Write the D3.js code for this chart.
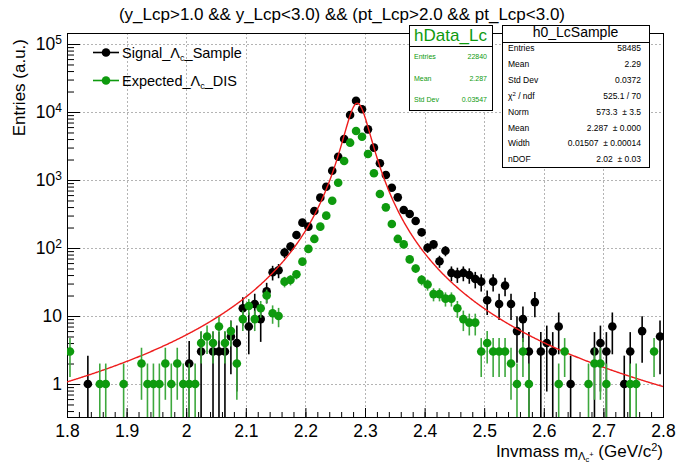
<!DOCTYPE html>
<html>
<head>
<meta charset="utf-8">
<script src="https://cdn.jsdelivr.net/npm/d3@7/dist/d3.min.js"></script>
<style>
  html, body { margin: 0; padding: 0; background: #fff; }
  text { font-family: "Liberation Sans", Arial, Helvetica, sans-serif; }
</style>
</head>
<body>
<svg id="chart" width="678" height="464"></svg>
<script>
// Histogram binning: 100 bins of 0.01 GeV/c^2 from 1.8 to 2.8
const binLow = 1.8;
const binWidth = 0.01;

// Bin contents, h0_LcSample (black)
const signalSample = [
  0, 0, 0, 1, 0, 0, 0, 0, 0, 0,
  0, 0, 0, 0, 0, 0, 0, 0, 0, 0,
  2, 0, 3, 0, 3, 3, 3, 5, 4, 13,
  7, 15, 9, 23, 44, 47, 86, 105, 155, 236,
  206, 350, 550, 797, 1370, 2200, 4010, 9040, 14660, 10960,
  5560, 2990, 1760, 1185, 771, 556, 362, 316, 250, 170,
  101, 113, 64, 91, 43, 41, 43, 40, 35, 32,
  17, 32, 15, 28, 15, 6, 9, 3, 16, 3,
  4, 3, 7, 0, 1, 0, 0, 0, 3, 4,
  3, 7, 0, 1, 3, 0, 6, 0, 0, 5
];

// Bin contents, hData_Lc (green)
const expectedDIS = [
  3, 0, 0, 0, 0, 1, 1, 0, 0, 1,
  0, 0, 2, 1, 1, 1, 2, 1, 2, 1,
  1, 1, 4, 5, 4, 7, 4, 6, 2, 9,
  14, 9, 13, 20, 11, 10, 32, 34, 41, 63,
  97, 136, 206, 299, 496, 913, 1900, 3540, 5250, 4330,
  2410, 1254, 622, 396, 225, 136, 113, 68, 50, 34,
  29, 21, 21, 18, 18, 13, 9, 8, 8, 3,
  4, 3, 3, 3, 2, 1, 3, 1, 0, 0,
  0, 0, 1, 3, 0, 0, 0, 1, 2, 2,
  1, 0, 0, 0, 1, 1, 0, 0, 3, 0
];

// Error scale of the weighted signal sample
const signalErrScale = 2.6;

// Fit result (Student-t shape) shown in the h0_LcSample box
const fitNorm = 573.3, fitNormErr = 3.5;
const fitMean = 2.287, fitMeanErr = 0.000;
const fitWidth = 0.01507, fitWidthErr = 0.00014;
const fitNdof = 2.02, fitNdofErr = 0.03;
const fitChi2 = 525.1, fitNdf = 70;

const xTicks = [1.8, 1.9, 2.0, 2.1, 2.2, 2.3, 2.4, 2.5, 2.6, 2.7, 2.8];
const xTickLabels = ["1.8", "1.9", "2", "2.1", "2.2", "2.3", "2.4", "2.5", "2.6", "2.7", "2.8"];
const yDecades = [1, 10, 100, 1000, 10000, 100000];

const statsData = { title: "hData_Lc", rows: [["Entries", "22840"], ["Mean", "2.287"], ["Std Dev", "0.03547"]] };
const statsSample = {
  title: "h0_LcSample",
  rows: [
    ["Entries", "58485"],
    ["Mean", "2.29"],
    ["Std Dev", "0.0372"],
    ["chi2", fitChi2.toFixed(1) + " / " + fitNdf],
    ["Norm", fitNorm.toFixed(1) + "  \u00b1 " + fitNormErr.toFixed(1)],
    ["Mean", fitMean.toFixed(3) + "  \u00b1 " + fitMeanErr.toFixed(3)],
    ["Width", fitWidth.toFixed(5) + "  \u00b1 " + fitWidthErr.toFixed(5)],
    ["nDOF", fitNdof.toFixed(2) + "  \u00b1 " + fitNdofErr.toFixed(2)]
  ]
};

const BLACK = "#000000";
const GREEN = "#0e9a0e";
const GREEN_BAR = "#3da83d";
const RED = "#ee1c1c";

// ---- layout of the frame
const frame = { left: 67, right: 663, top: 33, bottom: 417 };
const pxPerDecade = 68;
const yOne = 384; // pixel row of 1
const yMin = Math.pow(10, -(frame.bottom - yOne) / pxPerDecade);
const yMax = Math.pow(10, (yOne - frame.top) / pxPerDecade);

const svg = d3.select("#chart");
const x = d3.scaleLinear().domain([1.8, 2.8]).range([frame.left, frame.right]);
const y = d3.scaleLog().domain([yMin, yMax]).range([frame.bottom, frame.top]);

svg.append("defs").append("clipPath").attr("id", "plotClip")
  .append("rect").attr("x", frame.left).attr("y", frame.top)
  .attr("width", frame.right - frame.left).attr("height", frame.bottom - frame.top);

// ---- grid
const grid = svg.append("g").attr("stroke", "#b4b4b4").attr("stroke-width", 1).attr("stroke-dasharray", "2,2");
grid.selectAll("line.gx").data(xTicks.slice(1, -1)).join("line")
  .attr("x1", d => Math.round(x(d)) + 0.5).attr("x2", d => Math.round(x(d)) + 0.5)
  .attr("y1", frame.top).attr("y2", frame.bottom);
grid.selectAll("line.gy").data(yDecades).join("line")
  .attr("y1", d => Math.round(y(d)) + 0.5).attr("y2", d => Math.round(y(d)) + 0.5)
  .attr("x1", frame.left).attr("x2", frame.right);

// ---- axes
const xMinor = d3.range(0, 51).map(i => 1.8 + i * 0.02);
const xAxisMinor = d3.axisBottom(x).tickValues(xMinor).tickSizeInner(-5).tickSizeOuter(0).tickFormat("");
const xAxisMajor = d3.axisBottom(x).tickValues(xTicks).tickSizeInner(-9).tickSizeOuter(0)
  .tickPadding(8).tickFormat((d, i) => xTickLabels[i]);

const gxMinor = svg.append("g").attr("transform", `translate(0,${frame.bottom})`).call(xAxisMinor);
const gx = svg.append("g").attr("transform", `translate(0,${frame.bottom})`).call(xAxisMajor);
[gxMinor, gx].forEach(g => { g.select(".domain").remove(); g.selectAll(".tick line").attr("stroke", "#000"); });
gx.selectAll(".tick text").attr("font-size", 17.5).attr("fill", "#000")
  .style("font-family", "'Liberation Sans', Arial, sans-serif");

const yMinor = [];
for (let e = -1; e <= 5; e++) for (let m = 2; m <= 9; m++) {
  const v = m * Math.pow(10, e);
  if (v > yMin && v < yMax) yMinor.push(v);
}
const yAxisMinor = d3.axisLeft(y).tickValues(yMinor).tickSizeInner(-7).tickSizeOuter(0).tickFormat("");
const yAxisMajor = d3.axisLeft(y).tickValues(yDecades).tickSizeInner(-13).tickSizeOuter(0).tickPadding(5)
  .tickFormat(() => "");
const gyMinor = svg.append("g").attr("transform", `translate(${frame.left},0)`).call(yAxisMinor);
const gy = svg.append("g").attr("transform", `translate(${frame.left},0)`).call(yAxisMajor);
[gyMinor, gy].forEach(g => { g.select(".domain").remove(); g.selectAll(".tick line").attr("stroke", "#000"); });
gy.selectAll(".tick text").each(function (d) {
  const t = d3.select(this).attr("font-size", 17.5).attr("fill", "#000")
    .style("font-family", "'Liberation Sans', Arial, sans-serif");
  const exp = Math.round(Math.log10(d));
  if (exp <= 1) { t.text(String(d)); }
  else {
    t.text("10");
    t.append("tspan").attr("dy", "-0.5em").attr("font-size", 12).text(exp);
  }
});

// ---- frame
svg.append("rect").attr("x", frame.left + 0.5).attr("y", frame.top + 0.5)
  .attr("width", frame.right - frame.left).attr("height", frame.bottom - frame.top)
  .attr("fill", "none").attr("stroke", "#000").attr("stroke-width", 1);

// ---- data layers
const plot = svg.append("g").attr("clip-path", "url(#plotClip)");

function histPoints(values, errFn) {
  return values.map((v, i) => ({ x: binLow + binWidth * (i + 0.5), v, e: errFn(v) })).filter(d => d.v > 0);
}

function drawSeries(points, barColor, markColor, barWidth) {
  const g = plot.append("g");
  g.selectAll("line").data(points).join("line")
    .attr("x1", d => x(d.x)).attr("x2", d => x(d.x))
    .attr("y1", d => (d.v - d.e) > yMin ? y(d.v - d.e) : frame.bottom + 2)
    .attr("y2", d => y(d.v + d.e))
    .attr("stroke", barColor).attr("stroke-width", barWidth);
  g.selectAll("circle").data(points).join("circle")
    .attr("cx", d => x(d.x)).attr("cy", d => y(d.v)).attr("r", 4.3)
    .attr("fill", markColor);
}

drawSeries(histPoints(signalSample, v => Math.sqrt(signalErrScale * v)), BLACK, BLACK, 1.6);

// Student-t fit: Norm/Width * t-pdf((m - Mean)/Width; nDOF)
function gammaFn(z) {
  const p = [0.99999999999980993, 676.5203681218851, -1259.1392167224028, 771.32342877765313,
    -176.61502916214059, 12.507343278686905, -0.13857109526572012, 9.9843695780195716e-6, 1.5056327351493116e-7];
  if (z < 0.5) return Math.PI / (Math.sin(Math.PI * z) * gammaFn(1 - z));
  z -= 1;
  let a = p[0];
  for (let i = 1; i < 9; i++) a += p[i] / (z + i);
  const t = z + 7.5;
  return Math.sqrt(2 * Math.PI) * Math.pow(t, z + 0.5) * Math.exp(-t) * a;
}
const tCoef = gammaFn((fitNdof + 1) / 2) / (Math.sqrt(fitNdof * Math.PI) * gammaFn(fitNdof / 2));
function fitFn(m) {
  const t = (m - fitMean) / fitWidth;
  return fitNorm / fitWidth * tCoef * Math.pow(1 + t * t / fitNdof, -(fitNdof + 1) / 2);
}
const curve = d3.range(0, 1001).map(i => 1.8 + i * 0.001);
plot.append("path").datum(curve)
  .attr("d", d3.line().x(d => x(d)).y(d => y(fitFn(d))))
  .attr("fill", "none").attr("stroke", RED).attr("stroke-width", 1.4);

drawSeries(histPoints(expectedDIS, v => Math.sqrt(v)), GREEN_BAR, GREEN, 1.6);

// ---- title and axis titles
svg.append("text").attr("x", 342).attr("y", 20).attr("text-anchor", "middle")
  .attr("font-size", 17).text("(y_Lcp>1.0 && y_Lcp<3.0) && (pt_Lcp>2.0 && pt_Lcp<3.0)");

svg.append("text").attr("transform", `translate(25,${frame.top + 6}) rotate(-90)`)
  .attr("text-anchor", "end").attr("font-size", 17).text("Entries (a.u.)");

const xt = svg.append("text").attr("x", frame.right).attr("y", 457).attr("text-anchor", "end").attr("font-size", 17);
xt.append("tspan").text("Invmass m");
xt.append("tspan").attr("dy", 3).attr("font-size", 11).text("\u039b");
xt.append("tspan").attr("dy", 1.5).attr("font-size", 7.5).text("c");
xt.append("tspan").attr("dy", -5).attr("font-size", 7.5).text("+");
xt.append("tspan").attr("dy", 0.5).text(" (GeV/c");
xt.append("tspan").attr("dy", -6).attr("font-size", 11).text("2");
xt.append("tspan").attr("dy", 6).text(")");

// ---- legend
const legendItems = [
  { name: "Signal_", sub: "c", tail: "_Sample", color: BLACK, cy: 52.5 },
  { name: "Expected_", sub: "c", tail: "_DIS", color: GREEN, cy: 80.5 }
];
const lg = svg.append("g");
legendItems.forEach(it => {
  lg.append("line").attr("x1", 93).attr("x2", 119).attr("y1", it.cy).attr("y2", it.cy)
    .attr("stroke", it.color).attr("stroke-width", 1.6);
  lg.append("circle").attr("cx", 106).attr("cy", it.cy).attr("r", 4.3).attr("fill", it.color);
  const t = lg.append("text").attr("x", 122).attr("y", it.cy + 5).attr("font-size", 14.5);
  t.append("tspan").text(it.name + "\u039b");
  t.append("tspan").attr("dy", 3).attr("font-size", 9).text(it.sub);
  t.append("tspan").attr("dy", -3).text(it.tail);
});

// ---- statistics boxes
function statsBox(cfg) {
  const g = svg.append("g");
  g.append("rect").attr("x", cfg.x0 + 0.5).attr("y", cfg.y0 + 0.5)
    .attr("width", cfg.x1 - cfg.x0).attr("height", cfg.y1 - cfg.y0)
    .attr("fill", "#fff").attr("stroke", "#000").attr("stroke-width", 1);
  g.append("line").attr("x1", cfg.x0).attr("x2", cfg.x1 + 1)
    .attr("y1", cfg.sep + 0.5).attr("y2", cfg.sep + 0.5).attr("stroke", "#000");
  g.append("text").attr("x", (cfg.x0 + cfg.x1) / 2).attr("y", cfg.titleY)
    .attr("text-anchor", "middle").attr("font-size", cfg.titleSize).attr("fill", cfg.color)
    .text(cfg.data.title);
  cfg.data.rows.forEach((r, i) => {
    const yy = cfg.rowY0 + i * cfg.rowStep;
    const lab = g.append("text").attr("x", cfg.x0 + cfg.padL).attr("y", yy)
      .attr("font-size", cfg.rowSize).attr("fill", cfg.color);
    if (r[0] === "chi2") {
      lab.append("tspan").text("\u03c7");
      lab.append("tspan").attr("dy", -3).attr("font-size", cfg.rowSize * 0.7).text("2");
      lab.append("tspan").attr("dy", 3).text(" / ndf");
    } else lab.text(r[0]);
    g.append("text").attr("x", cfg.x1 - cfg.padR).attr("y", yy).attr("text-anchor", "end")
      .attr("font-size", cfg.rowSize).attr("fill", cfg.color)
      .attr("xml:space", "preserve").style("white-space", "pre").text(r[1]);
  });
}

statsBox({ data: statsData, x0: 409, x1: 492, y0: 25, y1: 110, sep: 46, titleY: 41, titleSize: 17,
  rowY0: 59, rowStep: 21.5, rowSize: 7, padL: 5, padR: 5, color: GREEN });
statsBox({ data: statsSample, x0: 502, x1: 649, y0: 25, y1: 167, sep: 42, titleY: 37, titleSize: 14,
  rowY0: 51, rowStep: 15.9, rowSize: 8.5, padL: 6, padR: 8, color: "#000" });
</script>
</body>
</html>
